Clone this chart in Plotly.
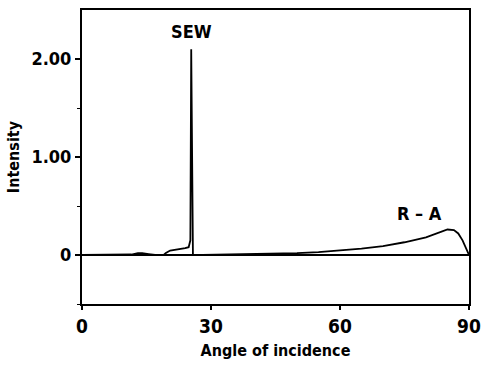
import plotly.graph_objects as go

angle = [0, 10, 11.5, 13, 14, 15.5, 17, 19, 19.5, 20.5, 21.5, 22.5, 23, 24, 24.8, 25.2, 25.4, 25.6, 25.8,
         28, 35, 40, 45, 50, 55, 60, 65, 70, 75, 80, 83, 85, 86.5, 87.5, 88.5, 89.3, 90]
intensity = [0, 0, 0.005, 0.02, 0.02, 0.01, 0.0, 0.0, 0.02, 0.045, 0.05, 0.055, 0.06, 0.07, 0.08, 0.15, 2.10, 0.3, 0.0,
             0.0, 0.005, 0.01, 0.015, 0.02, 0.03, 0.045, 0.065, 0.09, 0.13, 0.18, 0.23, 0.26, 0.255, 0.22, 0.15, 0.06, 0.0]

x_ticks = [0, 30, 60, 90]
x_tick_labels = ["0", "30", "60", "90"]
y_ticks = [0, 1, 2]
y_tick_labels = ["0", "1.00", "2.00"]

FONT = "DejaVu Sans Condensed, DejaVu Sans, sans-serif"

fig = go.Figure()
fig.add_trace(go.Scatter(x=angle, y=intensity, mode="lines",
                         line=dict(color="black", width=1.8), showlegend=False, hoverinfo="skip"))

fig.add_annotation(x=25.4, y=2.28, text="<b>SEW</b>", showarrow=False,
                   font=dict(family=FONT, size=18, color="black"), xanchor="center", yanchor="middle")
fig.add_annotation(x=78.5, y=0.42, text="<b>R – A</b>", showarrow=False,
                   font=dict(family=FONT, size=18, color="black"), xanchor="center", yanchor="middle")

fig.update_layout(
    width=489, height=365,
    margin=dict(l=82, r=13, t=8, b=57),
    paper_bgcolor="white", plot_bgcolor="white",
    font=dict(family=FONT, color="black"),
    xaxis=dict(range=[0, 90], tickvals=x_ticks, ticktext=x_tick_labels,
               ticks="outside", ticklen=4, tickwidth=1.5, tickcolor="black",
               showline=True, linecolor="black", linewidth=2, mirror=True,
               showgrid=False, zeroline=False,
               tickfont=dict(family=FONT, size=19, color="black", weight="bold"),
               title=dict(text="<b>Angle of incidence</b>", font=dict(family=FONT, size=16, color="black"), standoff=9)),
    yaxis=dict(range=[-0.5, 2.5], tickvals=y_ticks, ticktext=y_tick_labels,
               ticks="outside", ticklen=5, tickwidth=1.5, tickcolor="black",
               minor=dict(tickvals=[-0.5, 0.5, 1.5], ticks="outside", ticklen=3, tickcolor="black", tickwidth=1.2),
               showline=True, linecolor="black", linewidth=2, mirror=True,
               showgrid=False, zeroline=True, zerolinecolor="black", zerolinewidth=1.8,
               tickfont=dict(family=FONT, size=18, color="black", weight="bold"),
               title=dict(text="<b>Intensity</b>", font=dict(family=FONT, size=16, color="black"), standoff=8)),
)

fig.write_html("out.html")
